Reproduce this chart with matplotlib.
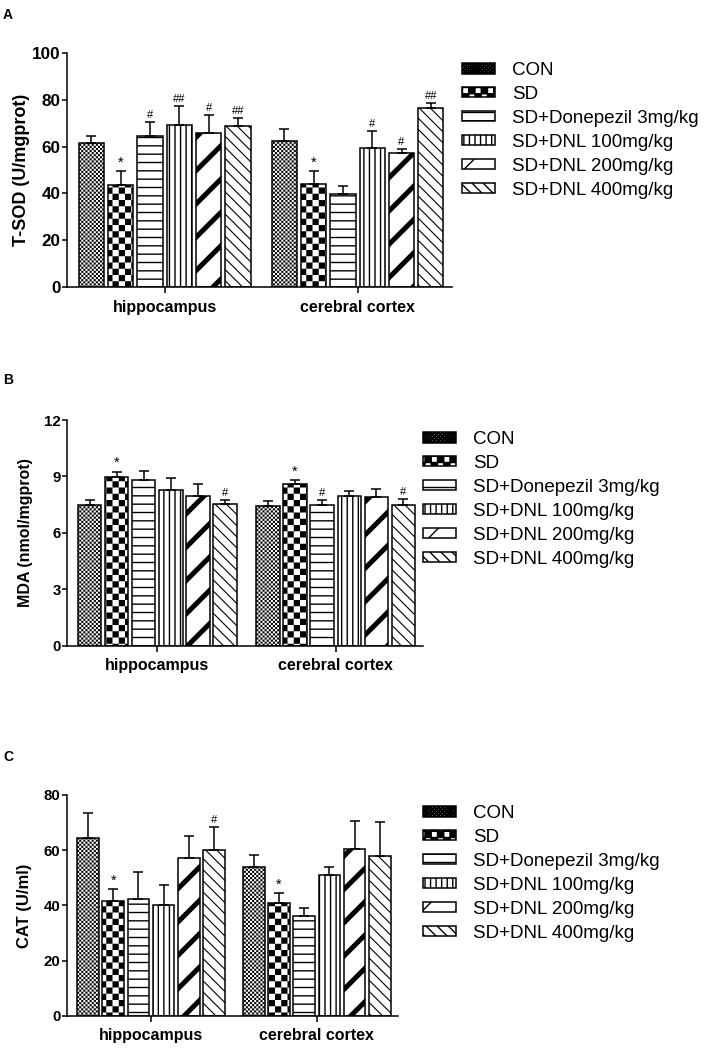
import numpy as np
import matplotlib
matplotlib.use('Agg')
import matplotlib.pyplot as plt
import matplotlib.hatch as mhatch
from matplotlib.path import Path

groups = ['hippocampus', 'cerebral cortex']
treatments = ['CON', 'SD', 'SD+Donepezil 3mg/kg', 'SD+DNL 100mg/kg',
              'SD+DNL 200mg/kg', 'SD+DNL 400mg/kg']

# rows = groups (hippocampus, cerebral cortex), columns = treatments
sod_mean = [[61.4, 43.6, 64.5, 69.3, 65.9, 68.8],
            [62.2, 43.9, 39.8, 59.4, 57.4, 76.6]]
sod_err = [[3.1, 6.1, 6.0, 8.1, 7.5, 3.2],
           [5.4, 5.7, 3.2, 7.2, 1.7, 2.1]]
sod_marks = [['', '*', '#', '##', '#', '##'],
             ['', '*', '', '#', '#', '##']]

mda_mean = [[7.47, 8.96, 8.81, 8.28, 7.96, 7.52],
            [7.43, 8.60, 7.48, 7.98, 7.91, 7.48]]
mda_err = [[0.28, 0.30, 0.48, 0.66, 0.62, 0.23],
           [0.27, 0.21, 0.27, 0.26, 0.41, 0.31]]
mda_marks = [['', '*', '', '', '', '#'],
             ['', '*', '#', '', '', '#']]

cat_mean = [[64.3, 41.6, 42.3, 40.1, 57.3, 60.1],
            [53.8, 41.0, 36.1, 51.0, 60.4, 57.8]]
cat_err = [[9.3, 4.2, 9.9, 7.3, 7.8, 8.2],
           [4.4, 3.4, 2.8, 3.0, 10.2, 12.3]]
cat_marks = [['', '*', '', '', '', '#'],
             ['', '*', '', '', '', '']]


# checkerboard hatches: 'o' -> fine checker, 'O' -> coarse checker
class Checker(mhatch.HatchPatternBase):
    char = 'O'
    per_char = 8

    def __init__(self, hatch, density):
        n = hatch.count(self.char) * self.per_char
        self.n = n + n % 2
        self.num_vertices = self.n * self.n // 2 * 5

    def set_vertices_and_codes(self, vertices, codes):
        s = 1.0 / self.n
        sq = np.array([[0, 0], [1, 0], [1, 1], [0, 1], [0, 0]]) * s
        k = 0
        for i in range(self.n):
            for j in range(i % 2, self.n, 2):
                vertices[k:k + 5] = sq + (i * s, j * s)
                codes[k:k + 5] = [Path.MOVETO, Path.LINETO, Path.LINETO,
                                  Path.LINETO, Path.CLOSEPOLY]
                k += 5


class FineChecker(Checker):
    char = 'o'


mhatch._hatch_types = [mhatch.HorizontalHatch, mhatch.VerticalHatch,
                       mhatch.NorthEastHatch, mhatch.SouthEastHatch,
                       FineChecker, Checker]

hatches = ['oooooo', 'OO', '--', '|||', '/', '\\\\\\']
hatch_lw = [0.0, 0.0, 1.0, 1.0, 3.6, 0.8]

plt.rcParams['font.family'] = ['Liberation Sans', 'DejaVu Sans']
plt.rcParams['axes.linewidth'] = 1.1

W, H = 708, 1052
fig = plt.figure(figsize=(W / 100, H / 100), dpi=100)


def box(x0, x1, ytop, ybot):
    return [x0 / W, 1 - ybot / H, (x1 - x0) / W, (ybot - ytop) / H]


group_pos = np.array([0.0, 6.58])
offsets = np.arange(6) - 2.5
bar_w = 0.86


def draw_panel(ax, means, errs, marks, ylabel, ymax, ystep,
               tick_fs, ylab_fs, ylab_pad, leg_anchor):
    means = np.array(means)
    errs = np.array(errs)
    for i, name in enumerate(treatments):
        x = group_pos + offsets[i]
        with plt.rc_context({'hatch.linewidth': hatch_lw[i]}):
            bars = ax.bar(x, means[:, i], bar_w, color='white',
                          edgecolor='black', linewidth=1.1,
                          hatch=hatches[i], label=name, zorder=2)
            for b in bars:
                if hasattr(b, 'set_hatch_linewidth'):
                    b.set_hatch_linewidth(hatch_lw[i])
        ax.errorbar(x, means[:, i], yerr=[np.zeros(2), errs[:, i]],
                    fmt='none', ecolor='black', elinewidth=1.1,
                    capsize=3.6, capthick=1.1, zorder=3)
        for g in range(2):
            t = marks[g][i]
            if t:
                ax.annotate(t, (x[g], means[g, i] + errs[g, i]),
                            xytext=(0, 1 if t == '*' else 1.5),
                            textcoords='offset points',
                            ha='center', va='bottom',
                            fontsize=10.5 if t == '*' else 8)

    ax.set_xlim(-3.33, 9.8)
    ax.set_ylim(0, ymax)
    ax.set_yticks(np.arange(0, ymax + 0.01, ystep))
    ax.set_xticks(group_pos)
    ax.set_xticklabels(groups)
    ax.spines['top'].set_visible(False)
    ax.spines['right'].set_visible(False)
    ax.tick_params(axis='y', length=3.6, width=1.1, pad=1,
                   labelsize=tick_fs)
    ax.tick_params(axis='x', length=4, width=1.1, pad=5, labelsize=11.5)
    for lab in ax.get_yticklabels() + ax.get_xticklabels():
        lab.set_fontweight('bold')
    ax.set_ylabel(ylabel, fontsize=ylab_fs, fontweight='bold',
                  labelpad=ylab_pad)

    leg = ax.legend(loc='upper left',
                    bbox_to_anchor=(leg_anchor[0] / W, 1 - leg_anchor[1] / H),
                    bbox_transform=fig.transFigure, frameon=False,
                    fontsize=13.5, borderpad=0, borderaxespad=0,
                    handlelength=1.76, handleheight=0.48,
                    handletextpad=0.9, labelspacing=0.37)
    for p in leg.get_patches():
        p.set_linewidth(1.1)


axA = fig.add_axes(box(67, 452, 52.7, 287.3))
draw_panel(axA, sod_mean, sod_err, sod_marks, 'T-SOD (U/mgprot)',
           100, 20, 12.3, 13, 1.5, (462, 62))

axB = fig.add_axes(box(67, 423, 420, 645.7))
draw_panel(axB, mda_mean, mda_err, mda_marks, 'MDA (nmol/mgprot)',
           12, 3, 10.8, 11.5, 8, (423, 431))

axC = fig.add_axes(box(67, 398, 795, 1015.7))
draw_panel(axC, cat_mean, cat_err, cat_marks, 'CAT (U/ml)',
           80, 20, 10.8, 12, 8.5, (423, 805))

for letter, y in [('A', 15), ('B', 380), ('C', 757)]:
    fig.text(3 / W, 1 - y / H, letter, fontsize=10, fontweight='bold',
             ha='left', va='center')

fig.savefig('out.png', dpi=100)
